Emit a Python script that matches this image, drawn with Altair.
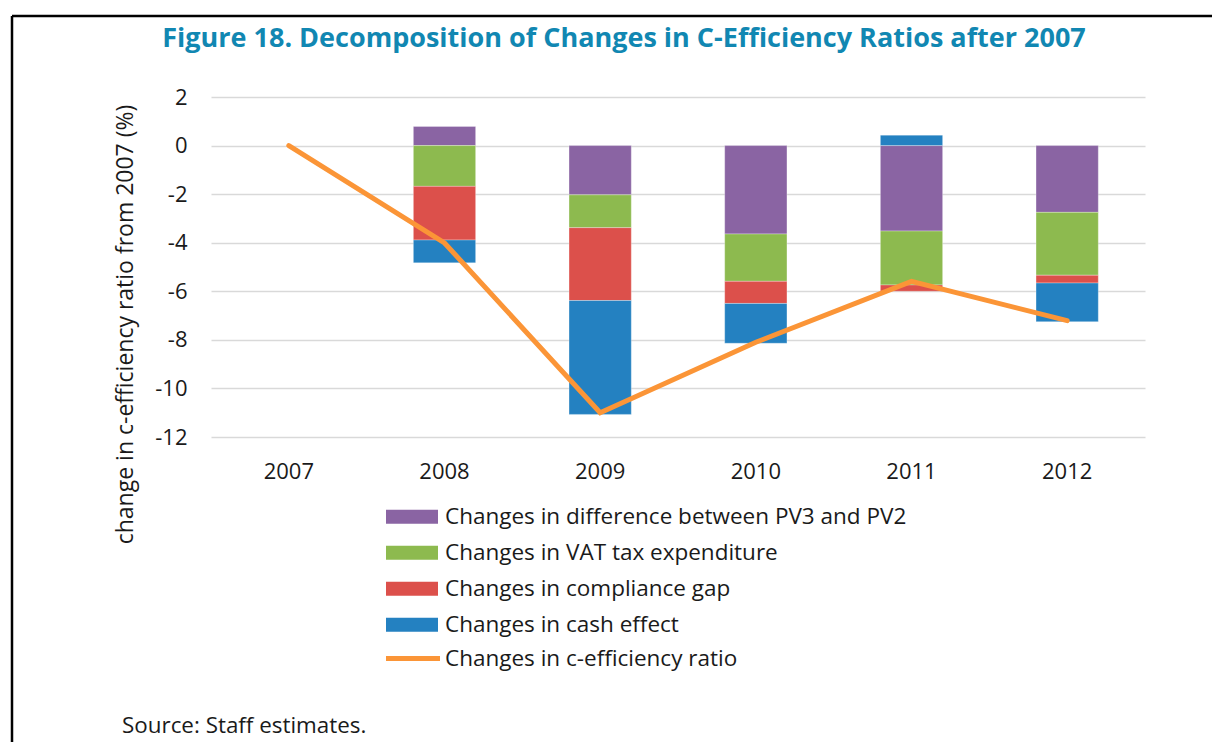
import altair as alt
import pandas as pd

years = ["2007", "2008", "2009", "2010", "2011", "2012"]
components = [
    "Changes in difference between PV3 and PV2",
    "Changes in VAT tax expenditure",
    "Changes in compliance gap",
    "Changes in cash effect",
]
colors = ["#8A64A3", "#8DBA4F", "#DC504B", "#2481C1"]
pv_diff = [0.0, 0.79, -2.03, -3.64, -3.52, -2.75]
vat_exp = [0.0, -1.68, -1.35, -1.95, -2.22, -2.59]
compliance = [0.0, -2.21, -3.00, -0.91, -0.26, -0.32]
cash = [0.0, -0.94, -4.69, -1.64, 0.43, -1.59]
line_name = "Changes in c-efficiency ratio"
c_eff = [0.0, -4.01, -11.0, -8.1, -5.59, -7.21]
line_color = "#FB9537"

title_text = "Figure 18. Decomposition of Changes in C-Efficiency Ratios after 2007"
source_text = "Source: Staff estimates."
y_title = "change in c-efficiency ratio from 2007 (%)"
y_ticks = [-12, -10, -8, -6, -4, -2, 0, 2]

FONT = "Open Sans"
TXT = "#1a1a1a"

rows = []
for i, (name, vals) in enumerate(zip(components, [pv_diff, vat_exp, compliance, cash])):
    for y, v in zip(years, vals):
        if v != 0:
            rows.append({"year": y, "component": name, "value": v, "ord": i})
bars_df = pd.DataFrame(rows)
line_df = pd.DataFrame({"year": years, "value": c_eff, "series": line_name})

W, H = 934, 340

xscale = alt.Scale(domain=years, paddingInner=0.6, paddingOuter=0.3)
yscale = alt.Scale(domain=[-12, 2], nice=False, zero=False)

x_axis = alt.Axis(title=None, labelAngle=0, ticks=False, tickSize=0, domain=False,
                  labelFontSize=22, labelFont=FONT, labelColor=TXT, labelPadding=24,
                  grid=False)
y_axis = alt.Axis(title=y_title, values=y_ticks, ticks=False, tickSize=0, domain=False,
                  labelFontSize=22, labelFont=FONT, labelColor=TXT, labelPadding=24,
                  labelExpr="'' + datum.value",
                  grid=True, gridColor="#D9D9D9", gridWidth=1.5,
                  titleFontSize=23, titleFont=FONT, titleFontWeight="normal",
                  titleColor=TXT, titleAngle=270, titleAlign="center",
                  titleBaseline="alphabetic", titleX=-79, titleY=227)

bars = alt.Chart(bars_df).mark_bar(stroke="white", strokeWidth=0.5, strokeOpacity=0.6).encode(
    x=alt.X("year:N", scale=xscale, axis=x_axis, sort=years),
    y=alt.Y("value:Q", scale=yscale, axis=y_axis, stack="zero"),
    fill=alt.Fill("component:N",
                  scale=alt.Scale(domain=components, range=colors),
                  legend=alt.Legend(title=None, orient="none", legendX=175, legendY=402,
                                    symbolType="M-1,-0.27H1V0.27H-1Z", symbolSize=2704,
                                    symbolStrokeWidth=0, labelFontSize=22.5, labelFont=FONT,
                                    labelColor=TXT, rowPadding=0, clipHeight=35.5,
                                    labelOffset=7, labelLimit=600)),
    order=alt.Order("ord:Q", sort="ascending"),
)

line = alt.Chart(line_df).mark_line(strokeWidth=5, strokeCap="round", strokeJoin="miter").encode(
    x=alt.X("year:N", scale=xscale, sort=years),
    y=alt.Y("value:Q", scale=yscale),
    stroke=alt.Stroke("series:N", scale=alt.Scale(domain=[line_name], range=[line_color]),
                      legend=alt.Legend(title=None, orient="none", legendX=172.5, legendY=532,
                                        symbolType="M-1,0H1", symbolSize=2916,
                                        symbolStrokeWidth=5, symbolFillColor="transparent",
                                        labelFontSize=22.5, labelFont=FONT, labelColor=TXT,
                                        labelOffset=2.5, labelLimit=600)),
)

one = pd.DataFrame({"k": [0]})
title = alt.Chart(one).mark_text(text=title_text, font=FONT, fontSize=27, fontWeight="bold",
                                 color="#1187B2", align="center", baseline="alphabetic").encode(
    x=alt.value(624 - 211), y=alt.value(47 - 97))
source = alt.Chart(one).mark_text(text=source_text, font=FONT, fontSize=22.4, color=TXT,
                                  align="left", baseline="alphabetic").encode(
    x=alt.value(122 - 211), y=alt.value(733 - 97))
border_left = alt.Chart(one).mark_rule(color="black", strokeWidth=2.5).encode(
    x=alt.value(12 - 211), y=alt.value(16 - 97), y2=alt.value(760 - 97))
border_top = alt.Chart(one).mark_rule(color="black", strokeWidth=2.5).encode(
    x=alt.value(12 - 211), x2=alt.value(1225 - 211), y=alt.value(16 - 97))

chart = alt.layer(bars, line, title, source, border_left, border_top).resolve_scale(
    fill="independent", stroke="independent"
).properties(
    width=W, height=H,
    autosize=alt.AutoSizeParams(type="none"),
    padding={"left": 203, "top": 89, "right": 67, "bottom": 305},
    background="white",
).configure_view(stroke=None)

chart.save("out.html", embed_options={"renderer": "svg", "actions": False})
